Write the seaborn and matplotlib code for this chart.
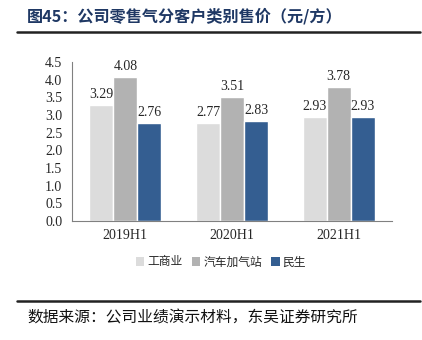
import matplotlib
matplotlib.use("Agg")
import matplotlib.pyplot as plt
import seaborn as sns
import pandas as pd
from matplotlib.patches import Patch

periods = ["2019H1", "2020H1", "2021H1"]
series_names = ["工商业", "汽车加气站", "民生"]
commercial = [3.29, 2.77, 2.93]
gas_station = [4.08, 3.51, 3.78]
residential = [2.76, 2.83, 2.93]
y_ticks = [0.0, 0.5, 1.0, 1.5, 2.0, 2.5, 3.0, 3.5, 4.0, 4.5]
title_text = "图45：公司零售气分客户类别售价（元/方）"
source_text = "数据来源：公司业绩演示材料，东吴证券研究所"

colors = ["#DCDCDC", "#B2B2B2", "#345E91"]

rows = []
for name, vals in zip(series_names, [commercial, gas_station, residential]):
    for p, v in zip(periods, vals):
        rows.append({"period": p, "series": name, "value": v})
df = pd.DataFrame(rows)

sns.set_theme(style="white")
plt.rcParams['font.family'] = ['Noto Sans CJK SC', 'DejaVu Sans']

fig = plt.figure(figsize=(4.22, 3.40), dpi=100)
ax = fig.add_axes([72/422, 1-221/340, 320/422, 159/340])

sns.barplot(data=df, x="period", y="value", hue="series", order=periods,
            hue_order=series_names, palette=colors, width=0.675,
            saturation=1, ax=ax, legend=False, errorbar=None)

serif = "Liberation Serif"
for cont in ax.containers:
    ax.bar_label(cont, fmt="%.2f", padding=3, fontsize=10, family=serif)

ax.set_ylim(0, 4.5)
ax.set_xlim(-0.5, 2.5)
ax.set_yticks(y_ticks)
ax.set_yticklabels([f"{t:.1f}" for t in y_ticks], family=serif, fontsize=10)
ax.set_xticks(range(len(periods)))
ax.set_xticklabels(periods, family=serif, fontsize=10)
ax.set_xlabel("")
ax.set_ylabel("")
ax.tick_params(axis="y", length=3, color="#808080", pad=4, width=0.8)
ax.tick_params(axis="x", length=0, pad=6)
ax.set_xticks([0.5, 1.5, 2.5], minor=True)
ax.tick_params(axis="x", which="minor", length=3, direction="in", color="#808080")
for s in ["top", "right"]:
    ax.spines[s].set_visible(False)
for s in ["left", "bottom"]:
    ax.spines[s].set_color("#808080")
    ax.spines[s].set_linewidth(0.8)

handles = [Patch(facecolor=c, edgecolor="none") for c in colors]
fig.legend(handles, series_names, loc="center", bbox_to_anchor=(221/422, 1-262/340),
           ncol=3, frameon=False, fontsize=8.5, handlelength=0.7, handleheight=0.7,
           handletextpad=0.25, columnspacing=0.8)

fig.text(27/422, 1-16/340, title_text, fontsize=11.6, fontweight="bold", color="#1F3864",
         va="center", ha="left")
fig.add_artist(plt.Line2D([17/422, 420/422], [1-32/340, 1-32/340], color="#222222", lw=1.8))
fig.add_artist(plt.Line2D([17/422, 420/422], [1-301/340, 1-301/340], color="#222222", lw=1.8))
fig.text(27/422, 1-318/340, source_text, fontsize=11.3, color="#111111", va="center", ha="left")

fig.savefig("out.png", dpi=100)
